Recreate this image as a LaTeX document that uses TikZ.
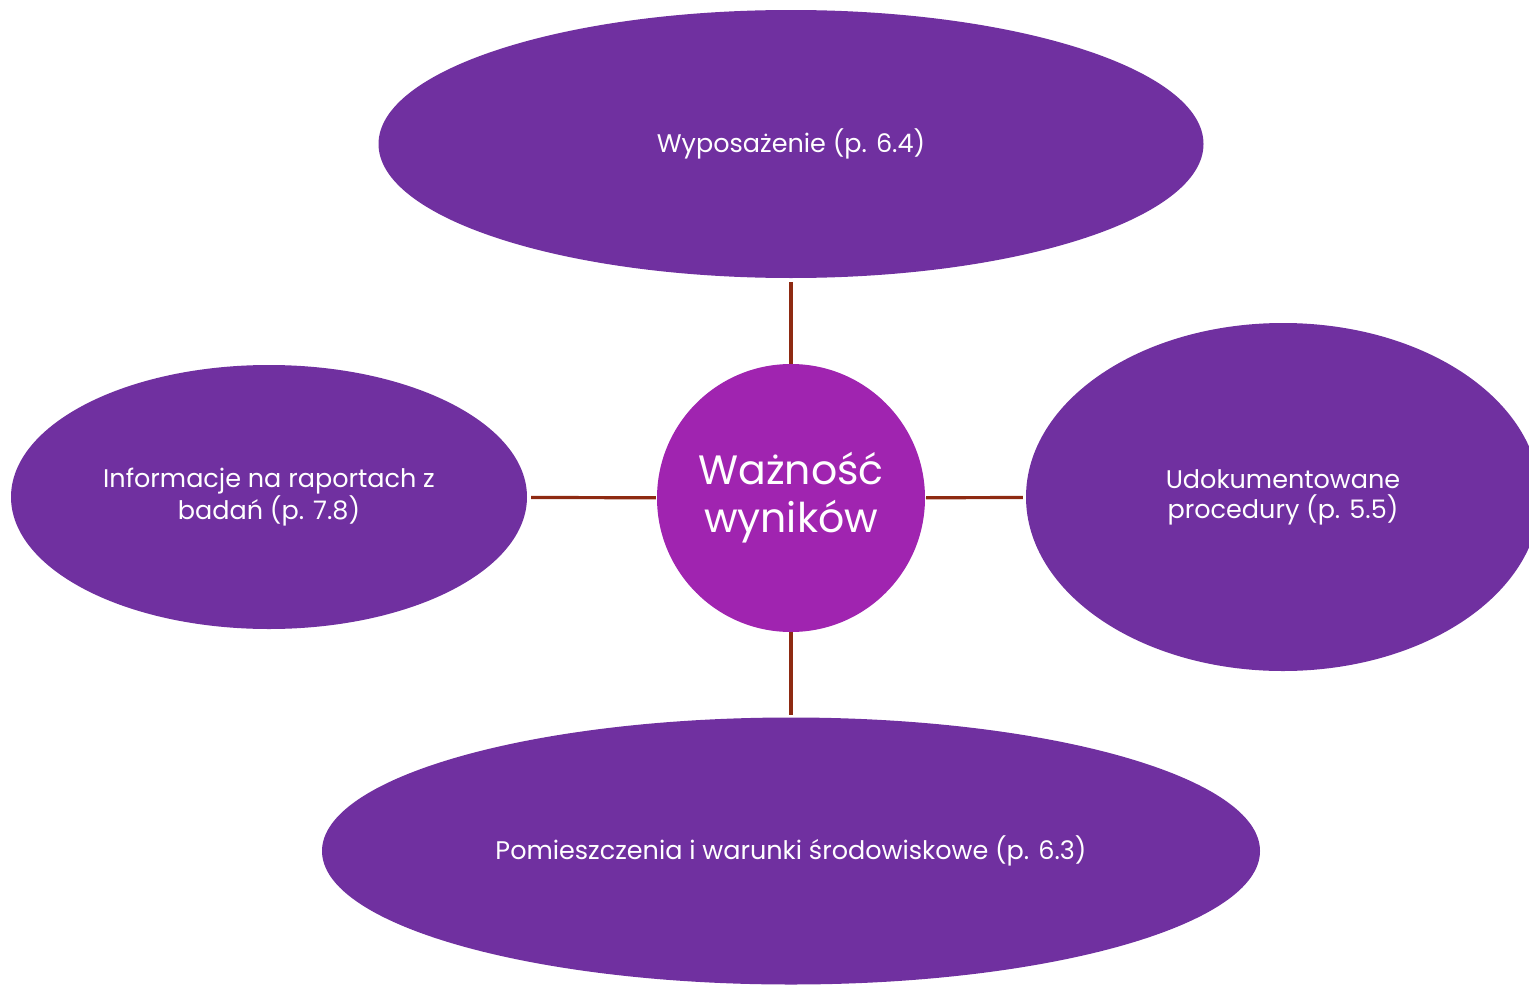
\documentclass[tikz,border=0pt]{standalone}
\usepackage{fontspec}
\setmainfont{Poppins}
\usetikzlibrary{shapes.geometric}
\definecolor{ellcol}{HTML}{7030A0}
\definecolor{circcol}{HTML}{A024B0}
\definecolor{linecol}{HTML}{8E2A12}
\tikzset{
  outer/.style={ellipse, fill=ellcol, draw=none, inner sep=0pt, text=white, align=center, font=\fontsize{25.5}{30}\selectfont},
  hub/.style={circle, fill=circcol, draw=none, inner sep=0pt, minimum size=268pt, text=white, align=center, font=\fontsize{41}{48}\selectfont},
  conn/.style={draw=linecol, line width=3.2pt}
}
\begin{document}
\begin{tikzpicture}[x=1pt,y=-1pt]
\useasboundingbox (0,0) rectangle (1529,985);
\clip (0,0) rectangle (1529,985);
\node[outer, minimum width=825pt, minimum height=268pt] (top) at (791,144) {Wyposażenie (p. 6.4)};
\node[outer, minimum width=516pt, minimum height=264pt] (left) at (269,497) {Informacje na raportach z\\badań (p. 7.8)};
\node[outer, minimum width=514pt, minimum height=348pt] (right) at (1283,497) {Udokumentowane\\procedury (p. 5.5)};
\node[outer, minimum width=938pt, minimum height=267pt] (bottom) at (791,851) {Pomieszczenia i warunki środowiskowe (p. 6.3)};
\node[hub] (c) at (791,498) {Ważność\\wyników};
\draw[conn, shorten <=4pt] (top) -- (c);
\draw[conn, shorten <=4pt, shorten >=1pt] (left) -- (c);
\draw[conn, shorten <=1pt, shorten >=3pt] (c) -- (right);
\draw[conn, shorten >=2pt] (c) -- (bottom);
\end{tikzpicture}
\end{document}
